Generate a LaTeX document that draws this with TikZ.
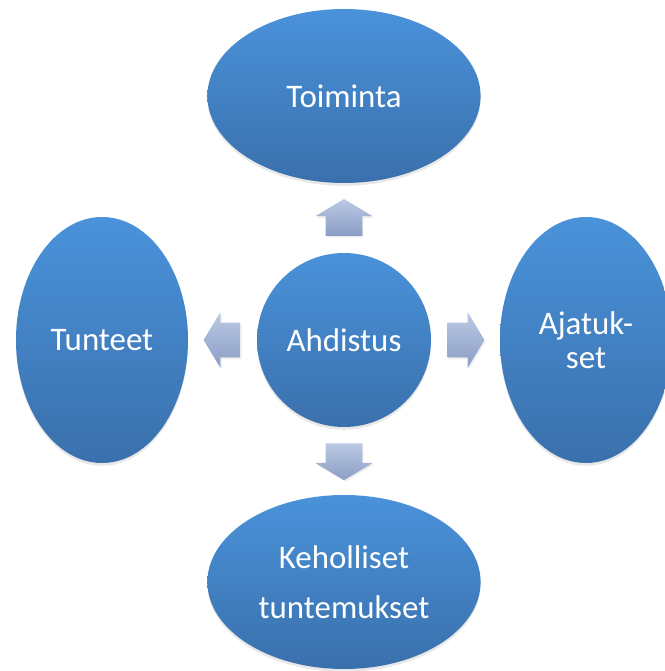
\documentclass[tikz,border=0pt]{standalone}
\usepackage{fontspec}
\setmainfont{Carlito}
\usepackage{tikz}
\usetikzlibrary{shapes.geometric}
\usetikzlibrary{shapes.arrows}
\usetikzlibrary{shadows}
\usetikzlibrary{calc}

\definecolor{blueTop}{RGB}{74,146,218}
\definecolor{blueBot}{RGB}{58,112,172}
\definecolor{arrowTop}{RGB}{187,201,227}
\definecolor{arrowBot}{RGB}{138,157,198}

\begin{document}
\begin{tikzpicture}[
    blob/.style={top color=blueTop, bottom color=blueBot, text=white, inner sep=0pt,
        align=center, font=\fontsize{23.4}{24}\selectfont,
        drop shadow={opacity=0.18, shadow xshift=0pt, shadow yshift=-0.07cm}},
    wide/.style={blob, ellipse, minimum width=6.83cm, minimum height=4.35cm},
    tall/.style={blob, ellipse, minimum width=4.3cm, minimum height=6.15cm},
    blockarrow/.style={single arrow, top color=arrowTop, bottom color=arrowBot,
        inner sep=0pt, minimum height=0.92cm,
        single arrow head extend=0.26cm, single arrow tip angle=118,
        drop shadow={opacity=0.15, shadow xshift=0.03cm, shadow yshift=-0.04cm}},
    varrow/.style={blockarrow, inner xsep=0.45cm},
    harrow/.style={blockarrow, inner ysep=0.43cm}
]
    \useasboundingbox (-8.6,-8.275) rectangle (8.0,8.5);

    \node[blob, circle, minimum size=4.35cm] (ahdistus) at (0,0) {Ahdistus};

    \node[wide] (toiminta) at (0,6.1) {Toiminta};
    \node[tall] (tunteet) at (-6.05,0) {Tunteet};
    \node[tall] (ajatukset) at (6.05,0) {Ajatuk-\\set};
    \node[wide] (tuntemukset) at (0,-6.05) {Keholliset\\[0.4cm]tuntemukset};

    \node[varrow, shape border rotate=90] (up) at ($(ahdistus.north)!0.43!(toiminta.south)$) {};
    \node[harrow, shape border rotate=180] (left) at ($(ahdistus.west)!0.43!(tunteet.east)$) {};
    \node[harrow, shape border rotate=0] (right) at ($(ahdistus.east)!0.43!(ajatukset.west)$) {};
    \node[varrow, shape border rotate=270] (down) at ($(ahdistus.south)!0.43!(tuntemukset.north)$) {};
\end{tikzpicture}
\end{document}
